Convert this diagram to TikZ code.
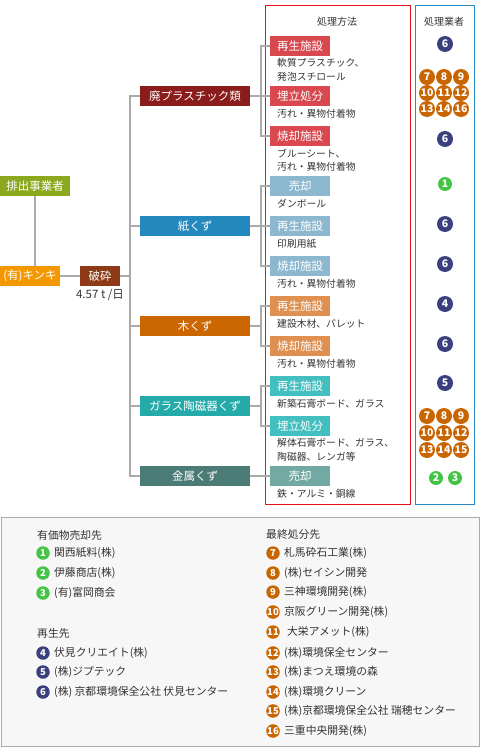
\documentclass[tikz,border=0pt]{standalone}
\usepackage{fontspec}
\setmainfont{Noto Sans CJK JP}
\usepackage{xcolor}
\usetikzlibrary{positioning}

\definecolor{haigreen}{HTML}{8CA81E}
\definecolor{kinkiorange}{HTML}{F39800}
\definecolor{hasaibrown}{HTML}{8E3A17}
\definecolor{catpla}{HTML}{8A1C1C}
\definecolor{catkami}{HTML}{2388BE}
\definecolor{catki}{HTML}{CC6600}
\definecolor{catglass}{HTML}{25AAAA}
\definecolor{catmetal}{HTML}{4A7B75}
\definecolor{mpla}{HTML}{D9484E}
\definecolor{mkami}{HTML}{8BB8CF}
\definecolor{mki}{HTML}{DF9050}
\definecolor{mglass}{HTML}{43BFBF}
\definecolor{mmetal}{HTML}{72A9A2}
\definecolor{navy}{HTML}{3B3F7D}
\definecolor{orn}{HTML}{C96500}
\definecolor{grn}{HTML}{44C444}
\definecolor{framered}{HTML}{E8141B}
\definecolor{frameblue}{HTML}{2A8AC8}
\definecolor{linegray}{HTML}{AAAAAA}
\definecolor{legendbg}{HTML}{F7F7F7}
\definecolor{txt}{HTML}{333333}

\begin{document}
\begin{tikzpicture}[x=1pt, y=-1pt,
  box/.style={rectangle, fill=#1, text=white, minimum height=20pt, inner sep=0pt,
    font=\fontsize{11.5}{12}\selectfont},
  cat/.style={box=#1, minimum width=110pt},
  meth/.style={box=#1, minimum width=60pt},
  note/.style={anchor=west, align=left, inner sep=0pt, text=txt,
    font=\fontsize{9.8}{13.5}\selectfont},
  num/.style={circle, fill=#1, text=white, minimum size=16pt, inner sep=0pt,
    font=\fontsize{10.5}{10}\bfseries},
  lnum/.style={circle, fill=#1, text=white, minimum size=13.5pt, inner sep=0pt,
    font=\fontsize{9.5}{9}\bfseries},
  ltext/.style={inner sep=0pt, text=txt, font=\fontsize{10.8}{12}\selectfont},
  line/.style={draw=linegray, line width=1.4pt},
]
\useasboundingbox (0,0) rectangle (480,754);

% Frames
\draw[framered, line width=1pt] (265,6) rectangle (410,504);
\draw[frameblue, line width=1pt] (415,6) rectangle (474,504);
\node[text=txt, font=\fontsize{10}{12}\selectfont] (head1) at (337,22) {処理方法};
\node[text=txt, font=\fontsize{10}{12}\selectfont] (head2) at (444,22) {処理業者};

% Nodes - left side
\node[box=haigreen, minimum width=70pt] (hai)   at (35,186) {排出事業者};
\node[box=kinkiorange, minimum width=60pt] (kinki) at (30,276) {(有)キンキ};
\node[box=hasaibrown, minimum width=40pt] (hasai) at (100,276) {破砕};
\node[below=3pt of hasai, inner sep=0pt, text=txt, font=\fontsize{11.5}{12}\selectfont] (rate) {4.57 t /日};

% Nodes - categories
\node[cat=catpla]   (pla)   at (195,96)  {廃プラスチック類};
\node[cat=catkami]  (kami)  at (195,226) {紙くず};
\node[cat=catki]    (ki)    at (195,326) {木くず};
\node[cat=catglass] (glass) at (195,406) {ガラス陶磁器くず};
\node[cat=catmetal] (metal) at (195,476) {金属くず};

% Nodes - methods
\node[meth=mpla]   (p1) at (300,46)  {再生施設};
\node[meth=mpla]   (p2) at (300,96)  {埋立処分};
\node[meth=mpla]   (p3) at (300,136) {焼却施設};
\node[meth=mkami]  (k1) at (300,186) {売却};
\node[meth=mkami]  (k2) at (300,226) {再生施設};
\node[meth=mkami]  (k3) at (300,266) {焼却施設};
\node[meth=mki]    (w1) at (300,306) {再生施設};
\node[meth=mki]    (w2) at (300,346) {焼却施設};
\node[meth=mglass] (g1) at (300,386) {再生施設};
\node[meth=mglass] (g2) at (300,426) {埋立処分};
\node[meth=mmetal] (m1) at (300,476) {売却};

% Notes under methods
\node[note] (np1) at (277,70)  {軟質プラスチック、\\発泡スチロール};
\node[note] (np2) at (277,114) {汚れ・異物付着物};
\node[note] (np3) at (277,160) {ブルーシート、\\汚れ・異物付着物};
\node[note] (nk1) at (277,204) {ダンボール};
\node[note] (nk2) at (277,244) {印刷用紙};
\node[note] (nk3) at (277,284) {汚れ・異物付着物};
\node[note] (nw1) at (277,324) {建設木材、パレット};
\node[note] (nw2) at (277,364) {汚れ・異物付着物};
\node[note] (ng1) at (277,404) {新築石膏ボード、ガラス};
\node[note] (ng2) at (277,450) {解体石膏ボード、ガラス、\\陶磁器、レンガ等};
\node[note] (nm1) at (277,494) {鉄・アルミ・銅線};

% Connectors - left side
\draw[line] (hai.south) -- (hai.south |- kinki.north);
\draw[line] (kinki) -- (hasai);
\draw[line] (hasai.east) -- ++(10,0);
\draw[line] (pla.west) -- ++(-10,0) |- (metal.west);
\draw[line] (kami.west) -- ++(-10,0);
\draw[line] (ki.west) -- ++(-10,0);
\draw[line] (glass.west) -- ++(-10,0);

% Connectors - categories to methods
\draw[line] (pla.east) -- ++(11,0);
\draw[line] (p1.west) -- ++(-9,0) |- (p3.west);
\draw[line] (p2.west) -- ++(-9,0);
\draw[line] (kami.east) -- ++(11,0);
\draw[line] (k1.west) -- ++(-9,0) |- (k3.west);
\draw[line] (k2.west) -- ++(-9,0);
\draw[line] (ki.east) -- ++(11,0);
\draw[line] (w1.west) -- ++(-9,0) |- (w2.west);
\draw[line] (glass.east) -- ++(11,0);
\draw[line] (g1.west) -- ++(-9,0) |- (g2.west);
\draw[line] (metal) -- (m1);

% Contractors
\node[num=navy] (c1) at (445,44)  {6};
\node[num=navy] (c3) at (445,139) {6};
\node[num=grn, minimum size=14pt] (c4) at (445,184) {1};
\node[num=navy] (c5) at (445,224) {6};
\node[num=navy] (c6) at (445,264) {6};
\node[num=navy] (c7) at (445,304) {4};
\node[num=navy] (c8) at (445,344) {6};
\node[num=navy] (c9) at (445,383) {5};
\foreach \n/\cx/\cy in {7/427/77, 8/444/77, 9/461/77,
    10/427/93, 11/444/93, 12/461/93, 13/427/109, 14/444/109, 16/461/109}
  \node[num=orn] (a\n) at (\cx,\cy) {\n};
\foreach \n/\cx/\cy in {7/427/416, 8/444/416, 9/461/416,
    10/427/433, 11/444/433, 12/461/433, 13/427/450, 14/444/450, 15/461/450}
  \node[num=orn] (b\n) at (\cx,\cy) {\n};
\node[num=grn, minimum size=14pt] (c10) at (436,478) {2};
\node[num=grn, minimum size=14pt] (c11) at (455,478) {3};

% Legend
\draw[draw=linegray, fill=legendbg, line width=0.8pt] (1,517) rectangle (479,746);
\node[ltext, anchor=west] (lt1) at (37,535) {有価物売却先};
\node[lnum=grn] (l1) at (43,553) {1};
\node[ltext, right=4pt of l1] {関西紙料(株)};
\node[lnum=grn] (l2) at (43,573) {2};
\node[ltext, right=4pt of l2] {伊藤商店(株)};
\node[lnum=grn] (l3) at (43,593) {3};
\node[ltext, right=4pt of l3] {(有)富岡商会};
\node[ltext, anchor=west] (lt2) at (37,633) {再生先};
\node[lnum=navy] (l4) at (43,653) {4};
\node[ltext, right=4pt of l4] {伏見クリエイト(株)};
\node[lnum=navy] (l5) at (43,672) {5};
\node[ltext, right=4pt of l5] {(株)ジプテック};
\node[lnum=navy] (l6) at (43,692) {6};
\node[ltext, right=4pt of l6] {(株) 京都環境保全公社 伏見センター};

\node[ltext, anchor=west] (lt3) at (266,534) {最終処分先};
\node[lnum=orn] (l7) at (273,553) {7};
\node[ltext, right=4pt of l7] {札馬砕石工業(株)};
\node[lnum=orn] (l8) at (273,573) {8};
\node[ltext, right=4pt of l8] {(株)セイシン開発};
\node[lnum=orn] (l9) at (273,592) {9};
\node[ltext, right=4pt of l9] {三神環境開発(株)};
\node[lnum=orn] (l10) at (273,612) {10};
\node[ltext, right=4pt of l10] {京阪グリーン開発(株)};
\node[lnum=orn] (l11) at (273,632) {11};
\node[ltext, right=7pt of l11] {大栄アメット(株)};
\node[lnum=orn] (l12) at (273,653) {12};
\node[ltext, right=4pt of l12] {(株)環境保全センター};
\node[lnum=orn] (l13) at (273,672) {13};
\node[ltext, right=4pt of l13] {(株)まつえ環境の森};
\node[lnum=orn] (l14) at (273,692) {14};
\node[ltext, right=4pt of l14] {(株)環境クリーン};
\node[lnum=orn] (l15) at (273,711) {15};
\node[ltext, right=4pt of l15] {(株)京都環境保全公社 瑞穂センター};
\node[lnum=orn] (l16) at (273,731) {16};
\node[ltext, right=4pt of l16] {三重中央開発(株)};

\end{tikzpicture}
\end{document}
